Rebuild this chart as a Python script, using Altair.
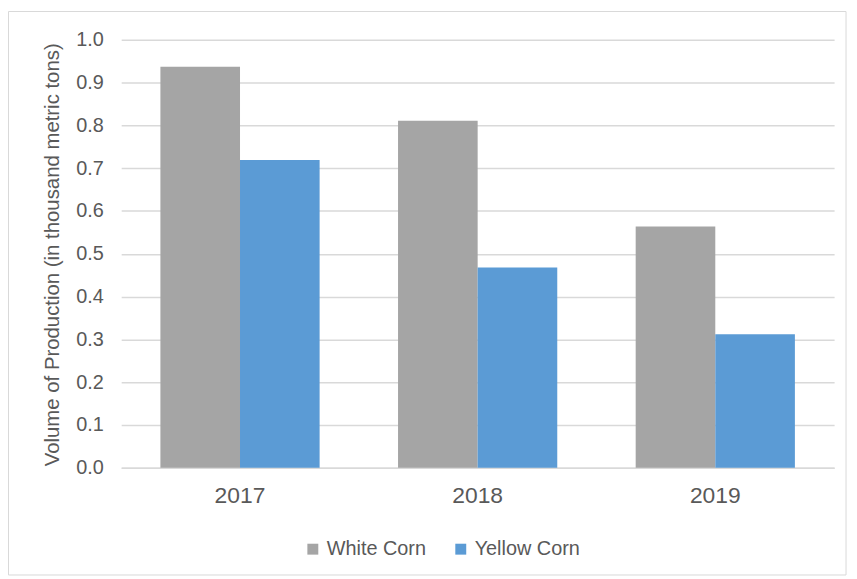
import altair as alt
import pandas as pd

years = ["2017", "2018", "2019"]
series = ["White Corn", "Yellow Corn"]
white_corn = [0.937, 0.811, 0.564]
yellow_corn = [0.719, 0.468, 0.312]
colors = ["#a5a5a5", "#5b9bd5"]
y_ticks = [0.0, 0.1, 0.2, 0.3, 0.4, 0.5, 0.6, 0.7, 0.8, 0.9, 1.0]

rows = []
for i, yr in enumerate(years):
    rows.append({"Year": yr, "Series": series[0], "Value": white_corn[i]})
    rows.append({"Year": yr, "Series": series[1], "Value": yellow_corn[i]})
df = pd.DataFrame(rows)

text_color = "#595959"
grid_color = "#d9d9d9"

bars = alt.Chart(df).mark_bar().encode(
    x=alt.X(
        "Year:N",
        sort=years,
        scale=alt.Scale(paddingInner=0.33, paddingOuter=0.165),
        axis=alt.Axis(
            title=None,
            labelAngle=0,
            labelFontSize=23,
            labelColor=text_color,
            labelPadding=17,
            ticks=False,
            domainColor=grid_color,
            domainWidth=1.5,
        ),
    ),
    xOffset=alt.XOffset("Series:N", sort=series),
    y=alt.Y(
        "Value:Q",
        scale=alt.Scale(domain=[0, 1.0], nice=False),
        axis=alt.Axis(
            values=y_ticks,
            format=".1f",
            title="Volume of Production (in thousand metric tons)",
            titleFontSize=20.5,
            titleFontWeight="normal",
            titleColor=text_color,
            titleAngle=-90,
            titleX=-63,
            titleY=216,
            titleAlign="center",
            titleBaseline="alphabetic",
            labelFontSize=20,
            labelColor=text_color,
            labelPadding=18,
            ticks=False,
            domain=False,
            grid=True,
            gridColor=grid_color,
            gridWidth=1.5,
        ),
    ),
    color=alt.Color(
        "Series:N",
        sort=series,
        scale=alt.Scale(domain=series, range=colors),
        legend=alt.Legend(
            title=None,
            orient="none",
            direction="horizontal",
            legendX=183,
            legendY=503,
            symbolType="square",
            symbolSize=121,
            symbolStrokeWidth=0,
            labelFontSize=20,
            labelColor=text_color,
            labelOffset=4,
            columnPadding=24,
            padding=0,
        ),
    ),
)

border = alt.Chart(pd.DataFrame({"a": [0]})).mark_rect(
    fill=None, stroke=grid_color, strokeWidth=1
).encode(
    x=alt.value(-113.5),
    x2=alt.value(730),
    y=alt.value(-28.5),
    y2=alt.value(539),
)

chart = alt.layer(bars, border).properties(
    width=718,
    height=431,
    autosize=alt.AutoSizeParams(type="none"),
    padding={"left": 114, "top": 30, "right": 15, "bottom": 110},
).configure(
    font="Liberation Sans",
).configure_view(
    stroke=None,
)

chart.save("out.html", embed_options={"renderer": "svg", "actions": False})
